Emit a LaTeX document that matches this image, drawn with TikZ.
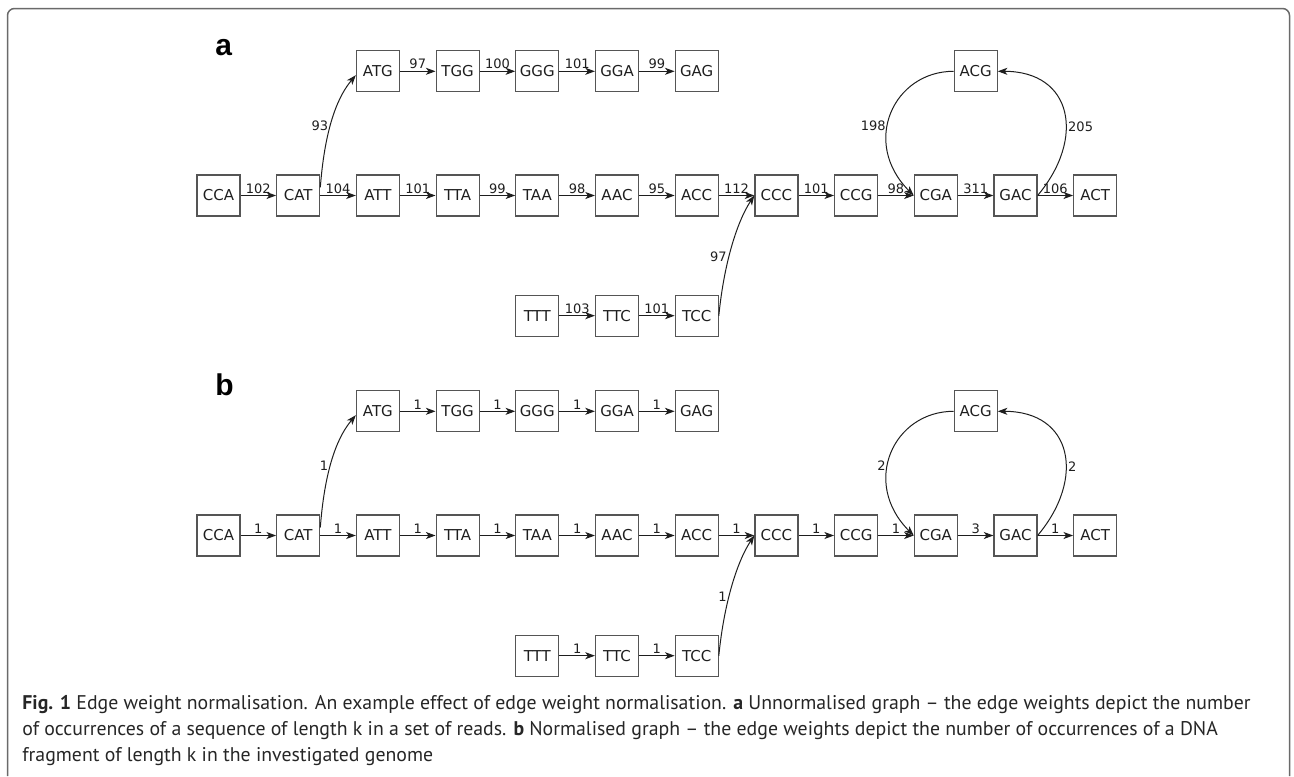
\documentclass[tikz,border=0pt]{standalone}
\usepackage{fontspec}
\usepackage{tikz}
\usetikzlibrary{arrows.meta,positioning,calc}
\newfontfamily\graphfont{DejaVu Sans}
\newfontfamily\panelfont{Liberation Sans}
\newfontfamily\capfont{PT Sans}
\definecolor{GraphInk}{HTML}{1E1E1E}
\definecolor{GraphGrey}{HTML}{555555}
\definecolor{FrameGrey}{HTML}{6A6A6A}
\definecolor{CapInk}{HTML}{262626}

\begin{document}
\begin{tikzpicture}[x=0.5pt, y=-0.5pt, node distance=40pt and 17.75pt,
  kbox/.style={draw=GraphGrey, line width=0.6pt, minimum width=21.5pt, minimum height=20.5pt,
               inner sep=0pt, text=GraphInk, font=\graphfont\fontsize{7.5}{9}\selectfont},
  wt/.style={text=GraphInk, inner sep=0.9pt, font=\graphfont\fontsize{6.5}{7.5}\selectfont},
  ed/.style={-{Stealth[length=4.8pt, width=3.5pt, inset=1.3pt]}, line width=0.5pt, GraphInk},
  panel/.style={anchor=base west, inner sep=0pt, font=\panelfont\bfseries\fontsize{15}{18}\selectfont}]
\useasboundingbox (0,0) rectangle (1294,776);
\draw[FrameGrey, line width=0.75pt, rounded corners=3.5pt]
  (7.5,776) -- (7.5,8.5) -- (1289.5,8.5) -- (1289.5,776);

\foreach \p/\dy/\wup/\wdn/\wlt/\wrt in {a/0/93/97/198/205, b/340/1/1/2/2} {
  \node[panel] (\p lab) at (215,55+\dy) {\p};
  % middle row
  \node[kbox] (\p CCA) at (218.5,195.5+\dy) {CCA};
  \foreach \n [remember=\n as \m (initially CCA)] in {CAT,ATT,TTA,TAA,AAC,ACC,CCC,CCG,CGA,GAC,ACT}
    \node[kbox, right=of \p\m] (\p\n) {\n};
  % upper and lower branches
  \node[kbox, above=41pt of \p ATT] (\p ATG) {ATG};
  \foreach \n [remember=\n as \m (initially ATG)] in {TGG,GGG,GGA,GAG}
    \node[kbox, right=of \p\m] (\p\n) {\n};
  \node[kbox, below=39pt of \p TAA] (\p TTT) {TTT};
  \foreach \n [remember=\n as \m (initially TTT)] in {TTC,TCC}
    \node[kbox, right=of \p\m] (\p\n) {\n};
  \coordinate (\p cyc) at ($(\p CGA.north)!0.5!(\p GAC.north)$);
  \node[kbox, above=41pt of \p cyc] (\p ACG) {ACG};
  % curved edges
  \draw[ed] (\p CAT.20) .. controls +(5,-65) and +(-16,19) .. (\p ATG.190)
    node[wt, pos=0.4, left] {\wup};
  \draw[ed] (\p TCC.east) .. controls +(5.5,-55) and +(-16.5,25) .. (\p CCC.west)
    node[wt, pos=0.4, left] {\wdn};
  \draw[ed] (\p ACG.west) .. controls +(-60,0) and +(-53,-53) .. (\p CGA.west)
    node[wt, pos=0.58, left] {\wlt};
  \draw[ed] (\p GAC.east) .. controls +(48,-57) and +(75,0) .. (\p ACG.east)
    node[wt, pos=0.4, right] {\wrt};
}

% straight edges, weights of panel a and panel b
\foreach \s/\t/\wA/\wB in {CCA/CAT/102/1, CAT/ATT/104/1, ATT/TTA/101/1, TTA/TAA/99/1,
    TAA/AAC/98/1, AAC/ACC/95/1, ACC/CCC/112/1, CCC/CCG/101/1, CCG/CGA/98/1, CGA/GAC/311/3,
    GAC/ACT/106/1, ATG/TGG/97/1, TGG/GGG/100/1, GGG/GGA/101/1, GGA/GAG/99/1,
    TTT/TTC/103/1, TTC/TCC/101/1} {
  \draw[ed] (a\s) -- node[wt, above] {\wA} (a\t);
  \draw[ed] (b\s) -- node[wt, above] {\wB} (b\t);
}

\node[anchor=base west, inner sep=0pt, align=left, text=CapInk,
      font=\capfont\fontsize{9.9}{13}\selectfont] (caption) at (22,761)
  {{\bfseries Fig. 1} Edge weight normalisation. An example effect of edge weight normalisation. {\bfseries a} Unnormalised graph – the edge weights depict the number\\
   of occurrences of a sequence of length k in a set of reads. {\bfseries b} Normalised graph – the edge weights depict the number of occurrences of a DNA\\
   fragment of length k in the investigated genome};
\end{tikzpicture}
\end{document}
